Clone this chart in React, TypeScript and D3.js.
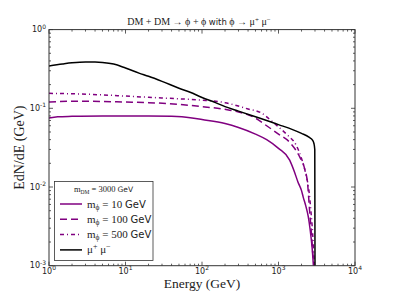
import { useEffect, useRef } from 'react';
import * as d3 from 'd3';

// m_phi = 10 GeV
const e10 = [1, 1.3, 2, 5, 10, 20, 40, 70, 100, 200, 300, 500, 700, 1000, 1400, 1600, 1800, 2000, 2100, 2300, 2450, 2600, 2750, 2860];
const v10 = [0.075, 0.078, 0.079, 0.08, 0.08, 0.08, 0.079, 0.076, 0.072, 0.064, 0.057, 0.047, 0.04, 0.031, 0.022, 0.016, 0.0115, 0.009, 0.0075, 0.0055, 0.0042, 0.0028, 0.0017, 0.001];

// m_phi = 100 GeV
const e100 = [1, 2, 5, 10, 20, 50, 100, 200, 300, 500, 700, 1000, 1400, 1700, 1900, 2200, 2400, 2550, 2700, 2850, 2950];
const v100 = [0.12, 0.123, 0.122, 0.12, 0.118, 0.112, 0.105, 0.097, 0.09, 0.075, 0.06, 0.047, 0.037, 0.029, 0.024, 0.017, 0.011, 0.005, 0.0025, 0.0012, 0.001];

// m_phi = 500 GeV
const e500 = [1, 2, 5, 10, 20, 50, 100, 200, 400, 600, 800, 1000, 1300, 1700, 2000, 2300, 2500, 2650, 2800, 2900, 2950];
const v500 = [0.155, 0.153, 0.148, 0.143, 0.138, 0.132, 0.127, 0.118, 0.098, 0.087, 0.07, 0.058, 0.046, 0.034, 0.023, 0.014, 0.009, 0.005, 0.0025, 0.0013, 0.001];

// direct mu+ mu-
const eMu = [1, 1.5, 2, 3, 4, 5, 7, 10, 15, 20, 30, 50, 70, 100, 150, 200, 300, 500, 700, 1000, 1500, 2000, 2500, 2800, 2900, 2980, 3000];
const vMu = [0.345, 0.365, 0.378, 0.388, 0.388, 0.383, 0.365, 0.325, 0.28, 0.255, 0.22, 0.18, 0.16, 0.137, 0.118, 0.105, 0.092, 0.078, 0.07, 0.062, 0.054, 0.048, 0.043, 0.039, 0.036, 0.03, 0.001];

const xTicks = [0, 1, 2, 3, 4];
const yTicks = [-3, -2, -1, 0];

const series = [
  { label: '10', e: e10, v: v10, color: 'purple', dash: null },
  { label: '100', e: e100, v: v100, color: 'purple', dash: '7,4' },
  { label: '500', e: e500, v: v500, color: 'purple', dash: '4,3,1,3' },
  { label: 'mu', e: eMu, v: vMu, color: 'black', dash: null },
];

const App = () => {
  const ref = useRef<HTMLDivElement>(null);

  useEffect(() => {
    d3.select(ref.current).selectAll('*').remove();

    const width = 395; const height = 296;
    const left = 49; const right = 355; const top = 29.6; const bottom = 265.7;

    const x = d3.scaleLog().domain([1, 1e4]).range([left, right]);
    const y = d3.scaleLog().domain([1e-3, 1]).range([bottom, top]);

    const svg = d3.select(ref.current)
      .append('svg')
      .attr('width', width)
      .attr('height', height)
      .style('position', 'absolute')
      .style('left', 0)
      .style('top', 0);

    svg.append('defs').append('clipPath').attr('id', 'plotclip')
      .append('rect')
      .attr('x', left).attr('y', top)
      .attr('width', right - left).attr('height', bottom - top);

    const line = d3.line<[number, number]>()
      .x(d => x(d[0]))
      .y(d => y(d[1]))
      .curve(d3.curveMonotoneX);

    series.forEach(s => {
      const pts = s.e.map((e, i) => [e, s.v[i]] as [number, number]);
      svg.append('path')
        .attr('d', line(pts))
        .attr('fill', 'none')
        .attr('stroke', s.color)
        .attr('stroke-width', 1.5)
        .attr('stroke-dasharray', s.dash)
        .attr('clip-path', 'url(#plotclip)');
    });

    // frame
    svg.append('rect')
      .attr('x', left).attr('y', top)
      .attr('width', right - left).attr('height', bottom - top)
      .attr('fill', 'none')
      .attr('stroke', '#333')
      .attr('stroke-width', 1);

    const tickG = svg.append('g').attr('stroke', '#333').attr('stroke-width', 0.8);

    // x ticks (top and bottom, inward)
    xTicks.forEach(p => {
      const xv = x(Math.pow(10, p));
      tickG.append('line').attr('x1', xv).attr('x2', xv).attr('y1', bottom).attr('y2', bottom - 4);
      tickG.append('line').attr('x1', xv).attr('x2', xv).attr('y1', top).attr('y2', top + 4);
      if (p < 4) {
        for (let m = 2; m < 10; m++) {
          const xm = x(m * Math.pow(10, p));
          tickG.append('line').attr('x1', xm).attr('x2', xm).attr('y1', bottom).attr('y2', bottom - 2);
          tickG.append('line').attr('x1', xm).attr('x2', xm).attr('y1', top).attr('y2', top + 2);
        }
      }
      const t = svg.append('text')
        .attr('x', xv)
        .attr('y', 273.5)
        .attr('text-anchor', 'middle')
        .attr('font-family', 'DejaVu Sans')
        .attr('font-size', 8)
        .attr('fill', '#222');
      t.append('tspan').text('10');
      t.append('tspan').attr('dy', -3.5).attr('font-size', 6).text(String(p));
    });

    // y ticks (left and right, inward)
    yTicks.forEach(p => {
      const yv = y(Math.pow(10, p));
      tickG.append('line').attr('x1', left).attr('x2', left + 4).attr('y1', yv).attr('y2', yv);
      tickG.append('line').attr('x1', right).attr('x2', right - 4).attr('y1', yv).attr('y2', yv);
      if (p < 0) {
        for (let m = 2; m < 10; m++) {
          const ym = y(m * Math.pow(10, p));
          tickG.append('line').attr('x1', left).attr('x2', left + 2).attr('y1', ym).attr('y2', ym);
          tickG.append('line').attr('x1', right).attr('x2', right - 2).attr('y1', ym).attr('y2', ym);
        }
      }
      const t = svg.append('text')
        .attr('x', left - 3)
        .attr('y', yv + 2.5)
        .attr('text-anchor', 'end')
        .attr('font-family', 'DejaVu Sans')
        .attr('font-size', 8)
        .attr('fill', '#222');
      t.append('tspan').text('10');
      t.append('tspan').attr('dy', -3.5).attr('font-size', 6).text(p === 0 ? '0' : '-' + Math.abs(p));
    });

    // title
    const title = svg.append('text')
      .attr('x', (left + right) / 2 - 3)
      .attr('y', 25)
      .attr('text-anchor', 'middle')
      .attr('font-family', 'Liberation Serif')
      .attr('font-size', 10)
      .attr('fill', '#222');
    title.append('tspan').text('DM + DM → ϕ + ϕ ');
    title.append('tspan').attr('font-family', 'DejaVu Sans').attr('font-size', 8.5).text('with');
    title.append('tspan').text(' ϕ → μ');
    title.append('tspan').attr('dy', -3.5).attr('font-size', 7).text('+');
    title.append('tspan').attr('dy', 3.5).text(' μ');
    title.append('tspan').attr('dy', -3.5).attr('font-size', 7).text('−');

    // axis labels
    svg.append('text')
      .attr('x', (left + right) / 2)
      .attr('y', 288)
      .attr('text-anchor', 'middle')
      .attr('font-family', 'Liberation Serif')
      .attr('font-size', 13.5)
      .attr('fill', '#222')
      .text('Energy (GeV)');

    svg.append('text')
      .attr('transform', `translate(24, ${(top + bottom) / 2}) rotate(-90)`)
      .attr('text-anchor', 'middle')
      .attr('font-family', 'Liberation Serif')
      .attr('font-size', 14)
      .attr('fill', '#222')
      .text('EdN/dE (GeV)');

    // legend
    const lg = svg.append('g');
    lg.append('rect')
      .attr('x', 54.5).attr('y', 181.5)
      .attr('width', 98.5).attr('height', 79)
      .attr('fill', 'white')
      .attr('stroke', '#333')
      .attr('stroke-width', 0.8);

    const lt = lg.append('text')
      .attr('x', 103.5).attr('y', 192)
      .attr('text-anchor', 'middle')
      .attr('font-family', 'Liberation Serif')
      .attr('font-size', 8.5)
      .attr('fill', '#222');
    lt.append('tspan').text('m');
    lt.append('tspan').attr('dy', 1.5).attr('font-size', 5.5).text('DM');
    lt.append('tspan').attr('dy', -1.5).text(' = 3000 ');
    lt.append('tspan').attr('font-family', 'DejaVu Sans').attr('font-size', 7.5).text('GeV');

    series.forEach((s, i) => {
      const ly = 204 + i * 15.3;
      lg.append('line')
        .attr('x1', 60).attr('x2', 82)
        .attr('y1', ly).attr('y2', ly)
        .attr('stroke', s.color)
        .attr('stroke-width', 1.5)
        .attr('stroke-dasharray', s.dash);
      const t = lg.append('text')
        .attr('x', 87).attr('y', ly + 3.5)
        .attr('font-family', 'Liberation Serif')
        .attr('font-size', 11)
        .attr('fill', '#222');
      if (s.label === 'mu') {
        t.append('tspan').text('μ');
        t.append('tspan').attr('dy', -4).attr('font-size', 8).text('+');
        t.append('tspan').attr('dy', 4).text(' μ');
        t.append('tspan').attr('dy', -4).attr('font-size', 8).text('−');
      } else {
        t.append('tspan').text('m');
        t.append('tspan').attr('dy', 2).attr('font-size', 7.5).text('ϕ');
        t.append('tspan').attr('dy', -2).text(' = ' + s.label + ' ');
        t.append('tspan').attr('font-family', 'DejaVu Sans').attr('font-size', 10).text('GeV');
      }
    });
  }, []);

  return <div ref={ref}></div>;
};

export default App;
